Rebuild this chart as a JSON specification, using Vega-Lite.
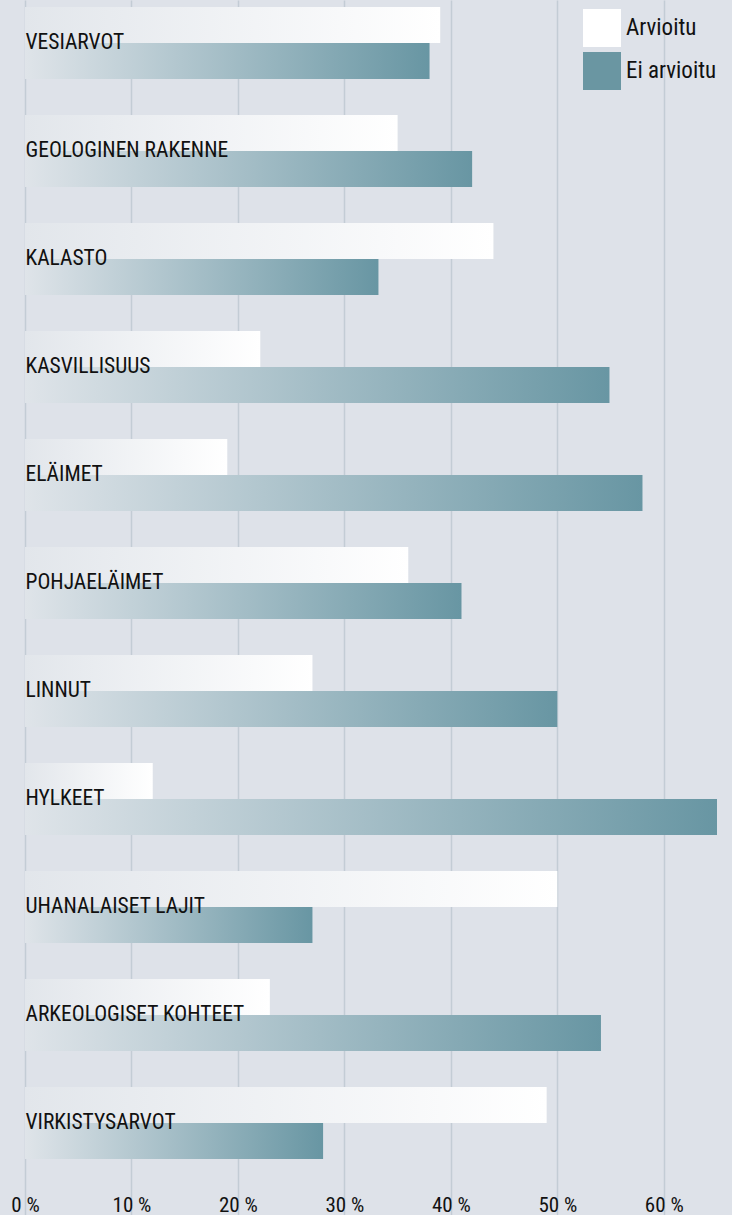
{
  "$schema": "https://vega.github.io/schema/vega-lite/v6.json",
  "width": 692,
  "height": 1215,
  "autosize": {"type": "none"},
  "padding": {"left": 25, "top": 0, "right": 15, "bottom": 0},
  "background": "#dee2e9",
  "config": {
    "view": {"stroke": null},
    "font": "Roboto Condensed, Roboto, sans-serif"
  },
  "data": {
    "values": [
      {"kohde": "VESIARVOT", "sarja": "Arvioitu", "osuus": 39},
      {"kohde": "VESIARVOT", "sarja": "Ei arvioitu", "osuus": 38},
      {"kohde": "GEOLOGINEN RAKENNE", "sarja": "Arvioitu", "osuus": 35},
      {"kohde": "GEOLOGINEN RAKENNE", "sarja": "Ei arvioitu", "osuus": 42},
      {"kohde": "KALASTO", "sarja": "Arvioitu", "osuus": 44},
      {"kohde": "KALASTO", "sarja": "Ei arvioitu", "osuus": 33.2},
      {"kohde": "KASVILLISUUS", "sarja": "Arvioitu", "osuus": 22.1},
      {"kohde": "KASVILLISUUS", "sarja": "Ei arvioitu", "osuus": 54.9},
      {"kohde": "ELÄIMET", "sarja": "Arvioitu", "osuus": 19},
      {"kohde": "ELÄIMET", "sarja": "Ei arvioitu", "osuus": 58},
      {"kohde": "POHJAELÄIMET", "sarja": "Arvioitu", "osuus": 36},
      {"kohde": "POHJAELÄIMET", "sarja": "Ei arvioitu", "osuus": 41},
      {"kohde": "LINNUT", "sarja": "Arvioitu", "osuus": 27},
      {"kohde": "LINNUT", "sarja": "Ei arvioitu", "osuus": 50},
      {"kohde": "HYLKEET", "sarja": "Arvioitu", "osuus": 12},
      {"kohde": "HYLKEET", "sarja": "Ei arvioitu", "osuus": 65},
      {"kohde": "UHANALAISET LAJIT", "sarja": "Arvioitu", "osuus": 50},
      {"kohde": "UHANALAISET LAJIT", "sarja": "Ei arvioitu", "osuus": 27},
      {"kohde": "ARKEOLOGISET KOHTEET", "sarja": "Arvioitu", "osuus": 23},
      {"kohde": "ARKEOLOGISET KOHTEET", "sarja": "Ei arvioitu", "osuus": 54.1},
      {"kohde": "VIRKISTYSARVOT", "sarja": "Arvioitu", "osuus": 49},
      {"kohde": "VIRKISTYSARVOT", "sarja": "Ei arvioitu", "osuus": 28}
    ]
  },
  "encoding": {
    "x": {
      "field": "osuus",
      "type": "quantitative",
      "scale": {"domain": [0, 65], "nice": false, "zero": true},
      "axis": {
        "title": null,
        "orient": "bottom",
        "values": [0, 10, 20, 30, 40, 50, 60],
        "labelExpr": "datum.value + ' %'",
        "labelFontSize": 21,
        "labelColor": "#111111",
        "labelPadding": -21,
        "labelBaseline": "top",
        "labelFlush": false,
        "domain": false,
        "ticks": false,
        "tickSize": 0,
        "grid": true,
        "gridColor": "#c3ccd5",
        "gridWidth": 1.5
      }
    },
    "y": {
      "field": "kohde",
      "type": "nominal",
      "sort": null,
      "scale": {"paddingInner": 0.3333, "paddingOuter": 0.2917, "align": 0.1111},
      "axis": {
        "title": null,
        "domain": false,
        "ticks": false,
        "tickSize": 0,
        "labelAlign": "left",
        "labelPadding": 0,
        "labelFontSize": 21.5,
        "labelColor": "#111111",
        "labelLimit": 500,
        "zindex": 1
      }
    },
    "yOffset": {
      "field": "sarja",
      "type": "nominal",
      "sort": ["Arvioitu", "Ei arvioitu"],
      "scale": {"paddingInner": 0, "paddingOuter": 0}
    }
  },
  "layer": [
    {
      "mark": {"type": "bar", "opacity": 0},
      "encoding": {
        "color": {
          "field": "sarja",
          "type": "nominal",
          "sort": ["Arvioitu", "Ei arvioitu"],
          "scale": {"domain": ["Arvioitu", "Ei arvioitu"], "range": ["#ffffff", "#6a96a2"]},
          "legend": {
            "title": null,
            "orient": "none",
            "legendX": 558,
            "legendY": 9,
            "padding": 0,
            "symbolType": "square",
            "symbolSize": 1444,
            "symbolOpacity": 1,
            "symbolStrokeWidth": 0,
            "rowPadding": 5,
            "labelOffset": 5,
            "labelFontSize": 23,
            "labelColor": "#111111"
          }
        }
      }
    },
    {
      "mark": {"type": "bar"},
      "encoding": {
        "color": {
          "condition": {
            "test": "datum.sarja === 'Arvioitu'",
            "value": {
              "gradient": "linear",
              "x1": 0, "y1": 0, "x2": 1, "y2": 0,
              "stops": [
                {"offset": 0, "color": "#e2e6eb"},
                {"offset": 1, "color": "#ffffff"}
              ]
            }
          },
          "value": {
            "gradient": "linear",
            "x1": 0, "y1": 0, "x2": 1, "y2": 0,
            "stops": [
              {"offset": 0, "color": "#dfe4e9"},
              {"offset": 1, "color": "#6896a3"}
            ]
          }
        }
      }
    }
  ]
}
